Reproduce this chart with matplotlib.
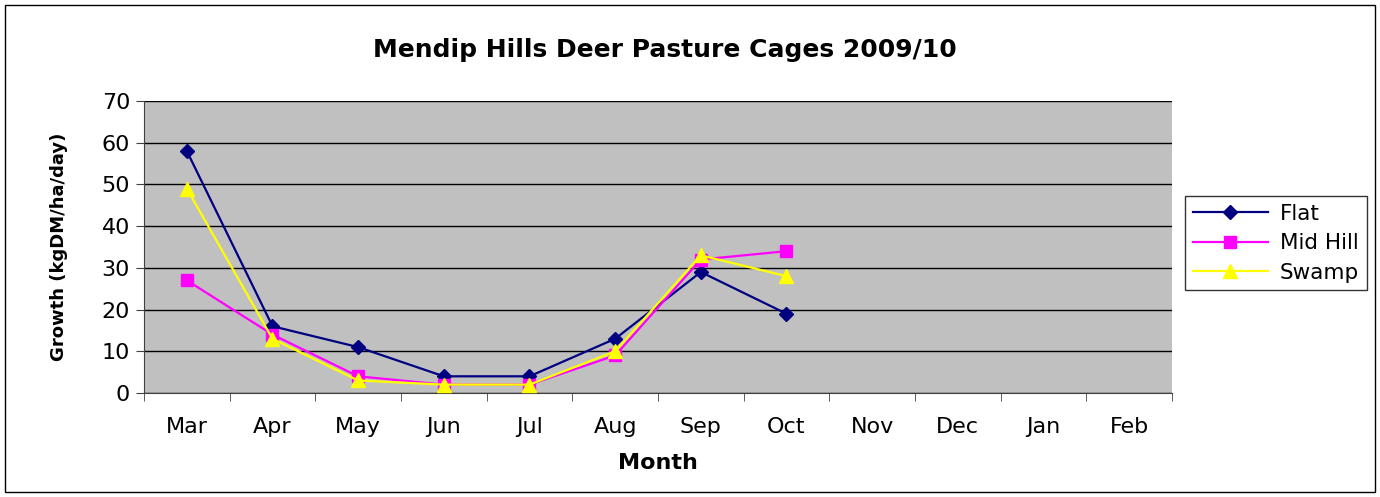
import matplotlib
matplotlib.use("Agg")
import matplotlib.pyplot as plt
import numpy as np

months = ["Mar", "Apr", "May", "Jun", "Jul", "Aug", "Sep", "Oct", "Nov", "Dec", "Jan", "Feb"]
flat = [58, 16, 11, 4, 4, 13, 29, 19]
mid_hill = [27, 14, 4, 2, 2, 9, 32, 34]
swamp = [49, 13, 3, 2, 2, 10, 33, 28]

plt.rcParams['font.family'] = ['DejaVu Sans']

fig = plt.figure(figsize=(13.8, 4.97), dpi=100)
ax = fig.add_axes([144/1380, 1 - 393/497, (1172-144)/1380, (393-101)/497])
ax.set_facecolor('#C0C0C0')

x = np.arange(len(months))
ax.plot(x[:len(flat)], flat, color='#000080', marker='D', markersize=7, lw=1.6, label='Flat', zorder=3)
ax.plot(x[:len(mid_hill)], mid_hill, color='#FF00FF', marker='s', markersize=9, lw=1.6, label='Mid Hill', zorder=4)
ax.plot(x[:len(swamp)], swamp, color='#FFFF00', marker='^', markersize=10, lw=1.6, label='Swamp', zorder=5)

ax.set_xlim(-0.5, len(months) - 0.5)
ax.set_ylim(0, 70)
ax.set_yticks(np.arange(0, 71, 10))
ax.set_xticks(x)
ax.set_xticklabels(months, fontsize=16)
ax.set_xticks(np.arange(-0.5, len(months), 1), minor=True)
ax.tick_params(axis='x', which='major', length=0, pad=17)
ax.tick_params(axis='x', which='minor', length=6, direction='out', color='#404040')
ax.tick_params(axis='y', labelsize=16, length=6, direction='out', color='#404040', pad=4)
ax.yaxis.grid(True, color='black', lw=1)
ax.set_axisbelow(True)
for s in ['top', 'right']:
    ax.spines[s].set_visible(False)
ax.spines['left'].set_color('#404040')
ax.spines['bottom'].set_color('#404040')

ax.set_xlabel('Month', fontsize=16, fontweight='bold', labelpad=12)
ax.set_ylabel('Growth (kgDM/ha/day)', fontsize=13, fontweight='bold', labelpad=24)
fig.text(0.482, 1 - 50/497, 'Mendip Hills Deer Pasture Cages 2009/10', ha='center', va='center',
         fontsize=18, fontweight='bold')

leg = fig.legend(loc='upper left', bbox_to_anchor=(1185/1380, 1 - 196/497), fontsize=15.5,
                 frameon=True, fancybox=False, edgecolor='black', handlelength=3.5,
                 borderpad=0.35, labelspacing=0.45, handletextpad=0.55, borderaxespad=0)
leg.get_frame().set_linewidth(1)

border = plt.Rectangle((5/1380, 5/497), 1 - 10/1380, 1 - 10/497, transform=fig.transFigure,
                       fill=False, edgecolor='black', lw=1)
fig.add_artist(border)

fig.savefig('out.png', dpi=100)
